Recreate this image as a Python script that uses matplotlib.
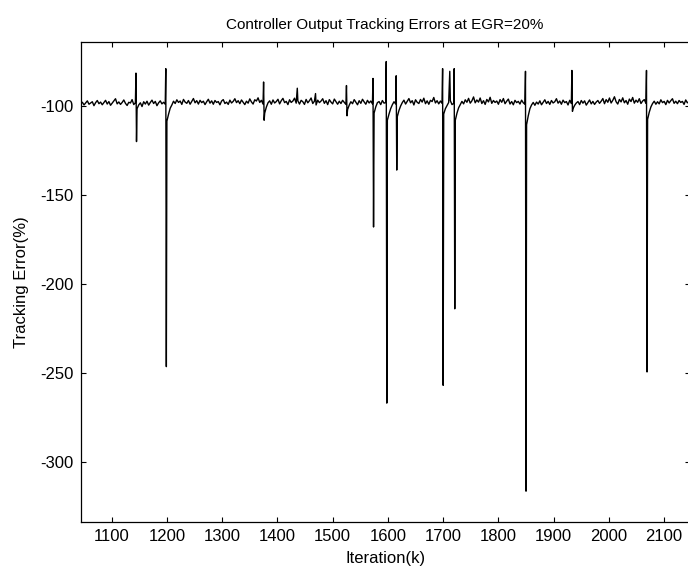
import numpy as np
import matplotlib
matplotlib.use('Agg')
import matplotlib.pyplot as plt

plt.rcParams['font.family'] = ['Liberation Sans', 'DejaVu Sans']
plt.rcParams['axes.unicode_minus'] = False

# Baseline tracking error, one reading every 3 iterations starting at k=1044
# (each row covers 36 iterations)
base_start = 1044
base_step = 3
base_err = [
    -98.6, -97.9, -99.4, -98.2, -97.1, -99.0, -98.3, -97.6, -99.8, -98.1, -96.9, -98.7,
    -97.8, -99.3, -98.0, -96.8, -98.9, -97.5, -99.6, -98.4, -97.2, -95.9, -98.8, -97.7,
    -99.1, -98.0, -96.6, -98.5, -99.7, -97.9, -98.3, -96.4, -99.2, -98.1, -101.5, -99.4,
    -98.2, -100.3, -97.6, -98.9, -97.3, -99.5, -98.0, -96.7, -98.6, -97.4, -99.8, -98.2,
    -97.1, -98.8, -97.9, -99.0, -108.5, -104.6, -101.2, -99.4, -97.3, -98.6, -96.5, -98.0,
    -97.2, -99.1, -96.3, -97.8, -98.5, -96.9, -99.0, -97.4, -95.8, -98.2, -97.0, -98.9,
    -96.8, -98.1, -97.3, -99.2, -97.6, -96.2, -98.4, -97.1, -99.0, -96.9, -98.0, -97.5,
    -99.3, -97.2, -96.4, -98.6, -97.8, -99.1, -96.7, -98.3, -97.4, -95.9, -98.1, -97.0,
    -98.7, -96.6, -97.9, -99.2, -97.3, -98.4, -96.0, -97.7, -98.9, -96.5, -97.2, -95.4,
    -98.0, -96.8, -98.9, -104.0, -100.6, -98.2, -97.1, -99.0, -96.6, -98.3, -97.5, -96.2,
    -98.8, -97.0, -95.7, -98.1, -97.4, -99.2, -96.5, -98.0, -97.2, -95.6, -98.4, -97.1,
    -98.9, -96.8, -97.6, -99.1, -96.3, -98.2, -97.0, -95.5, -98.6, -97.3, -99.4, -96.7,
    -98.1, -97.2, -95.9, -98.5, -97.0, -99.2, -96.4, -97.8, -98.8, -96.1, -97.5, -99.0,
    -97.3, -98.6, -96.8, -98.0, -99.1, -102.0, -99.5, -97.6, -98.7, -96.4, -97.9, -99.3,
    -97.0, -98.5, -96.2, -97.7, -99.0, -96.8, -98.3, -97.2, -98.8, -104.0, -100.5, -98.1,
    -97.5, -99.2, -96.9, -98.4, -98.0, -108.0, -104.5, -101.5, -99.3, -97.6, -98.8, -106.0,
    -102.5, -100.0, -98.1, -96.7, -98.9, -97.3, -95.8, -98.2, -97.0, -99.4, -96.5, -97.9,
    -98.6, -96.3, -97.8, -95.6, -98.7, -97.1, -99.0, -96.8, -97.5, -95.2, -98.3, -97.0,
    -98.8, -97.2, -98.5, -104.5, -101.5, -99.8, -98.0, -97.0, -99.2, -98.5, -108.0, -104.0,
    -101.0, -99.2, -97.4, -98.8, -96.5, -97.9, -95.7, -98.4, -97.1, -94.9, -98.2, -96.6,
    -97.8, -95.5, -98.6, -97.0, -99.1, -96.3, -97.7, -95.1, -98.5, -96.9, -98.0, -97.2,
    -99.0, -96.4, -97.9, -95.8, -98.7, -97.3, -96.1, -98.9, -97.5, -99.3, -96.8, -98.1,
    -97.4, -98.9, -96.7, -98.2, -99.0, -110.5, -105.5, -101.5, -99.4, -98.0, -99.6, -97.8,
    -98.9, -97.1, -99.3, -97.9, -96.5, -98.6, -97.4, -99.1, -96.9, -98.3, -97.6, -95.9,
    -98.4, -97.2, -99.0, -96.7, -98.1, -97.5, -99.4, -96.8, -98.6, -101.5, -99.6, -98.3,
    -97.5, -99.2, -96.9, -98.4, -97.1, -99.5, -98.0, -96.6, -98.8, -97.4, -99.1, -97.8,
    -96.9, -98.5, -97.3, -95.8, -98.7, -96.4, -97.9, -95.5, -98.3, -96.8, -94.8, -97.6,
    -98.9, -96.3, -97.7, -95.4, -98.2, -96.9, -99.0, -96.1, -97.5, -95.2, -98.4, -96.7,
    -97.9, -95.9, -98.6, -97.2, -96.4, -98.5, -107.5, -103.5, -100.5, -98.6, -97.3, -99.0,
    -97.6, -98.8, -96.5, -98.1, -97.4, -99.2, -96.8, -98.3, -97.0, -95.9, -98.5, -97.3,
    -98.7, -96.9, -98.0, -97.4, -99.1, -96.6, -98.2, -97.5, -98.9, -97.1, -98.4, -97.0,
]

# Spikes (iteration, error)
spike_k = [1144, 1145, 1198, 1199, 1375, 1376, 1436, 1469, 1525, 1526,
           1573, 1574, 1597, 1598, 1615, 1616, 1699, 1700, 1712, 1720, 1721,
           1849, 1850, 1933, 1934, 2068, 2069]
spike_err = [-81.5, -120.0, -79.0, -246.5, -86.5, -108.0, -90.0, -93.0, -88.5, -105.5,
             -84.5, -168.0, -75.0, -267.0, -83.0, -136.0, -79.0, -257.0, -80.5, -79.0, -214.0,
             -80.5, -316.5, -80.0, -103.0, -80.0, -249.5]

base_k = base_start + base_step * np.arange(len(base_err))
k = np.concatenate([base_k, spike_k])
err = np.concatenate([base_err, spike_err])
order = np.argsort(k, kind='stable')
k = k[order]
err = err[order]

fig = plt.figure(figsize=(6.88, 5.71), dpi=100)
ax = fig.add_axes([0.1173, 0.0853, 0.885, 0.8412])
ax.plot(k, err, color='black', linewidth=1.0)

ax.set_xlim(1044, 2146)
ax.set_ylim(-334, -64)
ax.set_xticks(range(1100, 2101, 100))
ax.set_yticks(range(-300, -99, 50))
ax.tick_params(direction='in', length=3.6, width=0.8, labelsize=12,
               top=True, right=True, pad=5)
for s in ax.spines.values():
    s.set_linewidth(0.9)

ax.set_title('Controller Output Tracking Errors at EGR=20%', fontsize=11, pad=9)
ax.set_xlabel('Iteration(k)', fontsize=12, labelpad=5)
ax.set_ylabel('Tracking Error(%)', fontsize=12, labelpad=8)

fig.savefig('out.png', dpi=100)
